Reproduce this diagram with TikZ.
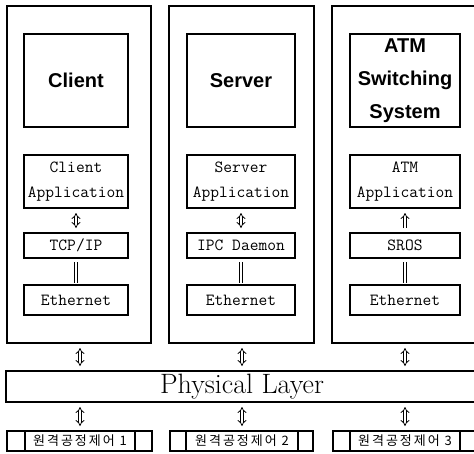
\documentclass[tikz,border=0pt]{standalone}
\usepackage{fontspec}
\usetikzlibrary{positioning,arrows.meta}
\newfontfamily\hostfont{Liberation Sans}
\newfontfamily\korfont[LetterSpace=15]{Noto Sans CJK KR}
\tikzset{colbox/.style={draw, line width=1.3pt, inner sep=0pt, outer sep=0pt, anchor=north west}}
\tikzset{hostbox/.style={colbox, align=center, font={\hostfont\bfseries\fontsize{20}{33}\selectfont}}}
\tikzset{appbox/.style={colbox, line width=1.2pt, align=center, font={\ttfamily\fontsize{17}{25}\selectfont}}}
\tikzset{ctrlbox/.style={draw, line width=1.2pt, inner sep=0pt, outer sep=0pt, minimum height=20pt, font={\korfont\fontsize{13}{15}\selectfont}}}
\tikzset{dbl/.style={draw, double, line width=0.8pt, double distance=2.2pt, shorten <=5pt, shorten >=5pt}}
\tikzset{bar2/.style={draw, double, line width=0.9pt, double distance=2.6pt, shorten <=4pt, shorten >=2pt}}

\begin{document}
\begin{tikzpicture}[x=1pt, y=-1pt]
    \useasboundingbox (0,0) rectangle (474,453);
    % stations
    \node[colbox, minimum width=144pt, minimum height=337pt] (c1) at (7,6) {};
    \node[colbox, minimum width=145pt, minimum height=337pt] (c2) at (169,6) {};
    \node[colbox, minimum width=150pt, minimum height=337pt] (c3) at (332,6) {};

    \node[hostbox, minimum width=104pt, minimum height=93pt] (h1) at (24,34) {Client};
    \node[appbox, minimum width=104pt, minimum height=53pt] (a1) at (24,155) {Client\\Application};
    \node[appbox, minimum width=104pt, minimum height=25pt] (p1) at (24,233) {TCP/IP};
    \node[appbox, minimum width=104pt, minimum height=30pt] (e1) at (24,285) {Ethernet};

    \node[hostbox, minimum width=108pt, minimum height=93pt] (h2) at (187,34) {Server};
    \node[appbox, minimum width=108pt, minimum height=53pt] (a2) at (187,155) {Server\\Application};
    \node[appbox, minimum width=108pt, minimum height=25pt] (p2) at (187,233) {IPC Daemon};
    \node[appbox, minimum width=108pt, minimum height=30pt] (e2) at (187,285) {Ethernet};

    \node[hostbox, minimum width=110pt, minimum height=93pt] (h3) at (350,34) {ATM\\Switching\\System};
    \node[appbox, minimum width=110pt, minimum height=53pt] (a3) at (350,155) {ATM\\Application};
    \node[appbox, minimum width=110pt, minimum height=25pt] (p3) at (350,233) {SROS};
    \node[appbox, minimum width=110pt, minimum height=30pt] (e3) at (350,285) {Ethernet};

    \draw[dbl, {Implies}-{Implies}] (a1) -- (p1);
    \draw[dbl, {Implies}-{Implies}] (a2) -- (p2);
    \draw[dbl, -{Implies}] (p3) -- (a3);
    \draw[bar2] (p1) -- (e1);
    \draw[bar2] (p2) -- (e2);
    \draw[bar2] (p3) -- (e3);

    % physical layer
    \node[colbox, minimum width=472pt, minimum height=31pt, font={\fontsize{28}{32}\selectfont}] (phys) at (6,371) {Physical Layer};

    % remote control units
    \node[ctrlbox, minimum width=110pt] (r1) at (80,441) {원격공정제어 1};
    \node[ctrlbox, minimum width=18pt, left=0pt of r1] (r1l) {};
    \node[ctrlbox, minimum width=17pt, right=0pt of r1] (r1r) {};
    \node[ctrlbox, minimum width=112pt] (r2) at (242,441) {원격공정제어 2};
    \node[ctrlbox, minimum width=16pt, left=0pt of r2] (r2l) {};
    \node[ctrlbox, minimum width=15pt, right=0pt of r2] (r2r) {};
    \node[ctrlbox, minimum width=110pt] (r3) at (405,441) {원격공정제어 3};
    \node[ctrlbox, minimum width=17pt, left=0pt of r3] (r3l) {};
    \node[ctrlbox, minimum width=18pt, right=0pt of r3] (r3r) {};

    \draw[dbl, {Implies}-{Implies}] (r1 |- c1.south) -- (r1 |- phys.north);
    \draw[dbl, {Implies}-{Implies}] (r2 |- c2.south) -- (r2 |- phys.north);
    \draw[dbl, {Implies}-{Implies}] (r3 |- c3.south) -- (r3 |- phys.north);
    \draw[dbl, {Implies}-{Implies}] (r1 |- phys.south) -- (r1.north);
    \draw[dbl, {Implies}-{Implies}] (r2 |- phys.south) -- (r2.north);
    \draw[dbl, {Implies}-{Implies}] (r3 |- phys.south) -- (r3.north);
\end{tikzpicture}
\end{document}
